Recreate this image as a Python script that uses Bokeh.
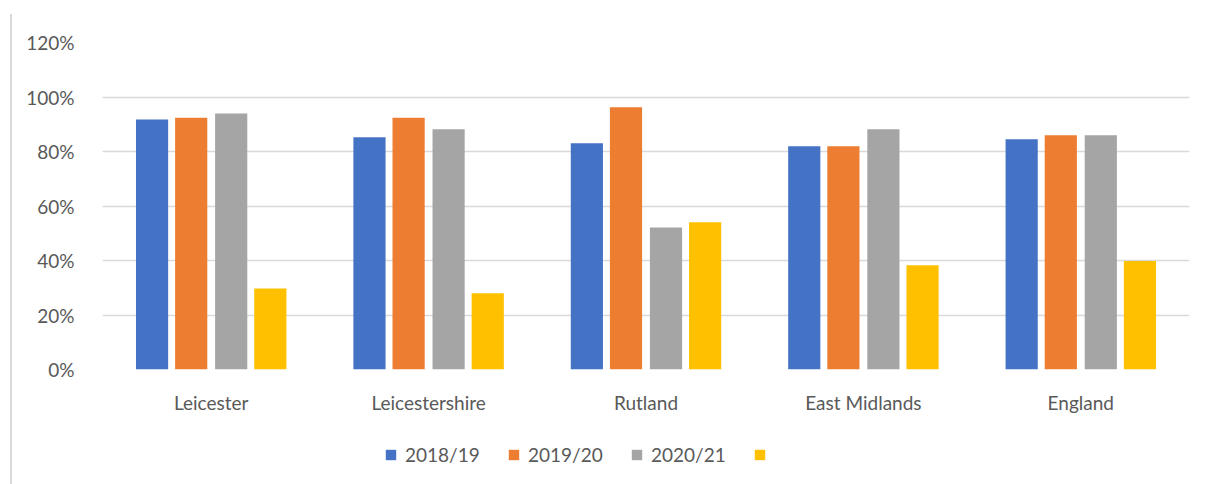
from bokeh.plotting import figure
from bokeh.layouts import column
from bokeh.models import ColumnDataSource, Legend, LegendItem, NumeralTickFormatter, FactorRange
from bokeh.transform import dodge
from bokeh.core.properties import value
from bokeh.embed import file_html
from bokeh.resources import INLINE

areas = ["Leicester", "Leicestershire", "Rutland", "East Midlands", "England"]
series_labels = ["2018/19", "2019/20", "2020/21", " "]
v2018 = [0.917, 0.852, 0.830, 0.819, 0.845]
v2019 = [0.924, 0.924, 0.962, 0.819, 0.860]
v2020 = [0.939, 0.882, 0.521, 0.882, 0.860]
v2021 = [0.297, 0.280, 0.540, 0.383, 0.398]
colors = ["#4472C4", "#ED7D31", "#A5A5A5", "#FFC000"]

src = ColumnDataSource(dict(area=areas, s0=v2018, s1=v2019, s2=v2020, s3=v2021))

FONT = "Lato"
FS = "19px"
TXT = "#595959"

p = figure(x_range=FactorRange(*areas, range_padding=0), y_range=(0, 1.2),
           width=1185, height=420, output_backend="svg", toolbar_location=None,
           min_border_left=90, min_border_right=8, min_border_top=28, min_border_bottom=65)
p.outline_line_color = None
p.background_fill_color = "white"
p.border_fill_color = "white"

offsets = [-0.272, -0.092, 0.092, 0.272]
renderers = []
for i, (col, off) in enumerate(zip(["s0", "s1", "s2", "s3"], offsets)):
    r = p.vbar(x=dodge("area", off, range=p.x_range), top=col, width=0.148, bottom=0,
               source=src, fill_color=colors[i], line_color=None)
    renderers.append(r)

p.xgrid.grid_line_color = None
p.ygrid.grid_line_color = "#d9d9d9"
p.ygrid.grid_line_width = 1.5
p.yaxis.ticker = [0, 0.2, 0.4, 0.6, 0.8, 1.0, 1.2]
p.yaxis.formatter = NumeralTickFormatter(format="0%")
p.yaxis.axis_line_color = None
p.yaxis.major_tick_line_color = None
p.yaxis.minor_tick_line_color = None
p.yaxis.major_label_text_font = FONT
p.yaxis.major_label_text_font_size = FS
p.yaxis.major_label_text_color = TXT
p.yaxis.major_label_standoff = 22

p.xaxis.axis_line_color = None
p.xaxis.major_tick_line_color = None
p.xaxis.minor_tick_line_color = None
p.xaxis.major_label_text_font = FONT
p.xaxis.major_label_text_font_size = FS
p.xaxis.major_label_text_color = TXT
p.xaxis.major_label_standoff = 15

# legend in a separate strip below the chart; its bars sit outside the strip's visible range
lg = figure(width=1185, height=50, output_backend="svg", toolbar_location=None,
            min_border=0, x_range=FactorRange(*areas), y_range=(10, 11))
lg.axis.visible = False
lg.grid.visible = False
lg.outline_line_color = None
lg.border_fill_color = "white"
lg.background_fill_color = "white"
lrs = [lg.vbar(x="area", top=col, bottom=0, width=0.1, source=src, fill_color=c, line_color=None)
       for col, c in zip(["s0", "s1", "s2", "s3"], colors)]
items = [LegendItem(label=value(lbl), renderers=[r]) for lbl, r in zip(series_labels, lrs)]
legend = Legend(items=items, orientation="horizontal", location=(282, 18),
                glyph_width=13, glyph_height=13, label_standoff=8, spacing=22, label_width=80,
                label_text_font=FONT, label_text_font_size=FS, label_text_color=TXT,
                border_line_color=None, background_fill_alpha=0, margin=0, padding=0)
lg.add_layout(legend, "center")

layout = column(p, lg, spacing=0)
layout.styles = {"border-left": "2px solid #d9d9d9", "margin-left": "10px", "margin-top": "14px"}

open("out.html", "w").write(file_html(layout, INLINE))
